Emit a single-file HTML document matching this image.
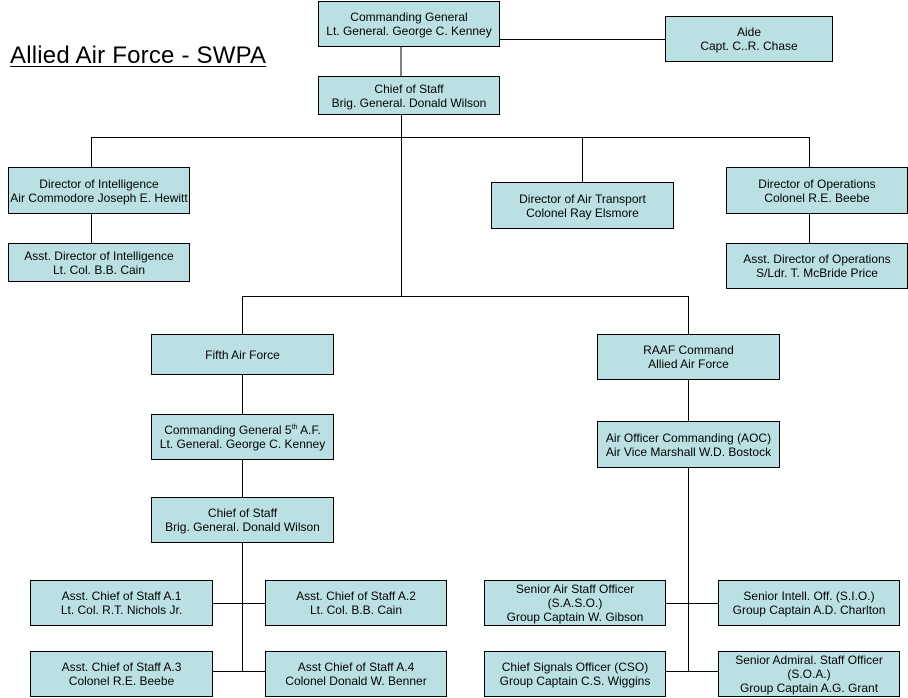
<!DOCTYPE html>
<html><head><meta charset="utf-8"><style>
html,body{margin:0;padding:0;background:#fff;width:908px;height:698px;overflow:hidden;position:relative;font-family:"Liberation Sans",Arial,sans-serif}
.b{position:absolute;box-sizing:border-box;background:#bbe0e3;border:1px solid #000;display:flex;flex-direction:column;justify-content:center;align-items:center;text-align:center;font-size:12px;line-height:14px;color:#000;white-space:nowrap}
svg{position:absolute;left:0;top:0}
.t{position:absolute;left:10px;top:42px;font-size:24px;text-decoration:underline;text-decoration-thickness:1px;text-underline-offset:3px;letter-spacing:0.2px}
</style></head><body>
<svg width="908" height="698"><g stroke="#000" stroke-width="1" fill="none" shape-rendering="crispEdges">
<line x1="401" y1="46" x2="401" y2="76"/>
<line x1="499" y1="39.5" x2="665" y2="39.5"/>
<line x1="401.5" y1="114" x2="401.5" y2="296"/>
<line x1="91" y1="137.5" x2="809" y2="137.5"/>
<line x1="91.5" y1="137" x2="91.5" y2="167"/>
<line x1="582.5" y1="137" x2="582.5" y2="182"/>
<line x1="809.5" y1="137" x2="809.5" y2="167"/>
<line x1="91.5" y1="213" x2="91.5" y2="243"/>
<line x1="809.5" y1="213" x2="809.5" y2="243"/>
<line x1="242" y1="296.5" x2="688" y2="296.5"/>
<line x1="242.5" y1="296" x2="242.5" y2="334"/>
<line x1="688.5" y1="296" x2="688.5" y2="334"/>
<line x1="242.5" y1="374" x2="242.5" y2="414"/>
<line x1="242.5" y1="459" x2="242.5" y2="497"/>
<line x1="242.5" y1="542" x2="242.5" y2="671"/>
<line x1="212" y1="603.5" x2="265" y2="603.5"/>
<line x1="212" y1="671.5" x2="265" y2="671.5"/>
<line x1="688.5" y1="379" x2="688.5" y2="421"/>
<line x1="688.5" y1="467" x2="688.5" y2="671"/>
<line x1="665" y1="603.5" x2="718" y2="603.5"/>
<line x1="665" y1="671.5" x2="718" y2="671.5"/>
</g></svg>
<div class="t">Allied Air Force - SWPA</div>
<div class="b" style="left:318px;top:1px;width:182px;height:46px">Commanding General<br>Lt. General. George C. Kenney</div>
<div class="b" style="left:665px;top:16px;width:168px;height:46px">Aide<br>Capt. C..R. Chase</div>
<div class="b" style="left:318px;top:76px;width:182px;height:39px">Chief of Staff<br>Brig. General. Donald Wilson</div>
<div class="b" style="left:8px;top:167px;width:182px;height:47px">Director of Intelligence<br>Air Commodore Joseph E. Hewitt</div>
<div class="b" style="left:8px;top:243px;width:182px;height:39px">Asst. Director of Intelligence<br>Lt. Col. B.B. Cain</div>
<div class="b" style="left:491px;top:182px;width:183px;height:47px">Director of Air Transport<br>Colonel Ray Elsmore</div>
<div class="b" style="left:726px;top:167px;width:182px;height:47px">Director of Operations<br>Colonel R.E. Beebe</div>
<div class="b" style="left:726px;top:243px;width:182px;height:46px">Asst. Director of Operations<br>S/Ldr. T. McBride Price</div>
<div class="b" style="left:151px;top:334px;width:183px;height:41px">Fifth Air Force</div>
<div class="b" style="left:597px;top:334px;width:183px;height:46px">RAAF Command<br>Allied Air Force</div>
<div class="b" style="left:151px;top:414px;width:183px;height:46px"><span>Commanding General 5<sup style="font-size:7px;line-height:0">th</sup> A.F.</span>Lt. General. George C. Kenney</div>
<div class="b" style="left:597px;top:421px;width:183px;height:47px">Air Officer Commanding (AOC)<br>Air Vice Marshall W.D. Bostock</div>
<div class="b" style="left:151px;top:497px;width:183px;height:46px">Chief of Staff<br>Brig. General. Donald Wilson</div>
<div class="b" style="left:30px;top:580px;width:183px;height:46px">Asst. Chief of Staff A.1<br>Lt. Col. R.T. Nichols Jr.</div>
<div class="b" style="left:265px;top:580px;width:182px;height:46px">Asst. Chief of Staff A.2<br>Lt. Col. B.B. Cain</div>
<div class="b" style="left:30px;top:651px;width:183px;height:46px">Asst. Chief of Staff A.3<br>Colonel R.E. Beebe</div>
<div class="b" style="left:265px;top:651px;width:182px;height:46px">Asst Chief of Staff A.4<br>Colonel Donald W. Benner</div>
<div class="b" style="left:484px;top:580px;width:182px;height:46px">Senior Air Staff Officer<br>(S.A.S.O.)<br>Group Captain W. Gibson</div>
<div class="b" style="left:718px;top:580px;width:182px;height:46px">Senior Intell. Off. (S.I.O.)<br>Group Captain A.D. Charlton</div>
<div class="b" style="left:484px;top:651px;width:182px;height:46px">Chief Signals Officer (CSO)<br>Group Captain C.S. Wiggins</div>
<div class="b" style="left:718px;top:651px;width:182px;height:46px">Senior Admiral. Staff Officer<br>(S.O.A.)<br>Group Captain A.G. Grant</div>
</body></html>
